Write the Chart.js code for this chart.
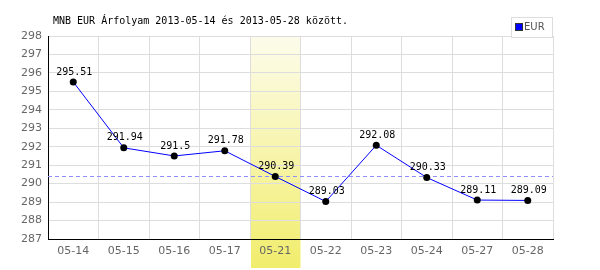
<!DOCTYPE html>
<html>
<head>
<meta charset="utf-8">
<script src="https://cdn.jsdelivr.net/npm/chart.js@4/dist/chart.umd.min.js"></script>
<style>
	body { margin: 0; background: #fff; }
	#wrap { width: 600px; height: 270px; }
</style>
</head>
<body>
<div id="wrap"><canvas id="rateChart" width="600" height="270"></canvas></div>
<script>
// EUR rates, 2013-05-14 .. 2013-05-28
const days = ['05-14', '05-15', '05-16', '05-17', '05-21', '05-22', '05-23', '05-24', '05-27', '05-28'];
const rates = [295.51, 291.94, 291.5, 291.78, 290.39, 289.03, 292.08, 290.33, 289.11, 289.09];
const yTicks = [287, 288, 289, 290, 291, 292, 293, 294, 295, 296, 297, 298];
const refLevel = 290.39;
const highlightDay = '05-21';
const titleText = 'MNB EUR Árfolyam 2013-05-14 és 2013-05-28 között.';

// Highlighted column, dashed reference line, point labels, title and legend box
const extras = {
	id: 'extras',
	beforeDraw(chart) {
		const { ctx, chartArea, scales: { x } } = chart;
		const i = days.indexOf(highlightDay);
		const w = x.getPixelForValue(1) - x.getPixelForValue(0);
		const cx = x.getPixelForValue(i);
		const g = ctx.createLinearGradient(0, chartArea.top, 0, 268);
		g.addColorStop(0, '#fdfcec');
		g.addColorStop(1, '#f1ed6c');
		ctx.save();
		ctx.fillStyle = g;
		ctx.fillRect(cx - w / 2 + 1, chartArea.top, w - 1, 268 - chartArea.top);
		ctx.restore();
	},
	beforeDatasetsDraw(chart) {
		const { ctx, chartArea, scales: { y } } = chart;
		const ry = Math.round(y.getPixelForValue(refLevel)) + 0.5;
		ctx.save();
		ctx.strokeStyle = '#8f8fff';
		ctx.lineWidth = 1;
		ctx.setLineDash([4, 3]);
		ctx.beginPath();
		ctx.moveTo(chartArea.left, ry);
		ctx.lineTo(chartArea.right, ry);
		ctx.stroke();
		ctx.restore();
	},
	afterDatasetsDraw(chart) {
		const { ctx } = chart;
		const meta = chart.getDatasetMeta(0);
		ctx.save();
		ctx.font = '10px "DejaVu Sans Mono", monospace';
		ctx.fillStyle = '#000';
		ctx.textAlign = 'center';
		ctx.textBaseline = 'bottom';
		meta.data.forEach((pt, i) => {
			ctx.fillText(String(rates[i]), pt.x + 1, pt.y - 5);
		});
		// title
		ctx.textAlign = 'left';
		ctx.textBaseline = 'middle';
		ctx.fillText(titleText, 53, 21);
		// legend
		ctx.fillStyle = '#fff';
		ctx.fillRect(511, 17, 41, 20);
		ctx.strokeStyle = '#ddd';
		ctx.strokeRect(511.5, 17.5, 41, 20);
		ctx.fillStyle = '#0000ff';
		ctx.fillRect(516, 24, 6, 6);
		ctx.strokeStyle = '#333';
		ctx.strokeRect(515.5, 23.5, 7, 7);
		ctx.fillStyle = '#555';
		ctx.font = '10px "DejaVu Sans", sans-serif';
		ctx.fillText('EUR', 524, 27.5);
		ctx.restore();
	}
};

new Chart(document.getElementById('rateChart'), {
	type: 'line',
	data: {
		labels: days,
		datasets: [{
			label: 'EUR',
			data: rates,
			borderColor: '#0000ff',
			borderWidth: 1,
			tension: 0,
			pointRadius: 3.5,
			pointBackgroundColor: '#000',
			pointBorderColor: '#000',
			pointBorderWidth: 0
		}]
	},
	options: {
		responsive: false,
		animation: false,
		layout: { padding: { top: 36, right: 47, left: 0, bottom: 0 } },
		plugins: {
			legend: { display: false },
			title: { display: false },
			tooltip: { enabled: false }
		},
		scales: {
			x: {
				offset: true,
				grid: { offset: true, color: '#ddd', drawTicks: false },
				border: { color: '#000', width: 1 },
				ticks: {
					color: '#666',
					padding: 6,
					font: { family: '"DejaVu Sans", sans-serif', size: 11 }
				},
				afterFit(s) { s.height = 31; }
			},
			y: {
				min: 287,
				max: 298,
				afterBuildTicks(s) { s.ticks = yTicks.map(v => ({ value: v })); },
				grid: { color: '#ddd', drawTicks: false },
				border: { color: '#000', width: 1 },
				ticks: {
					color: '#666',
					padding: 6,
					font: { family: '"DejaVu Sans", sans-serif', size: 11 }
				},
				afterFit(s) { s.width = 48; }
			}
		}
	},
	plugins: [extras]
});
</script>
</body>
</html>
